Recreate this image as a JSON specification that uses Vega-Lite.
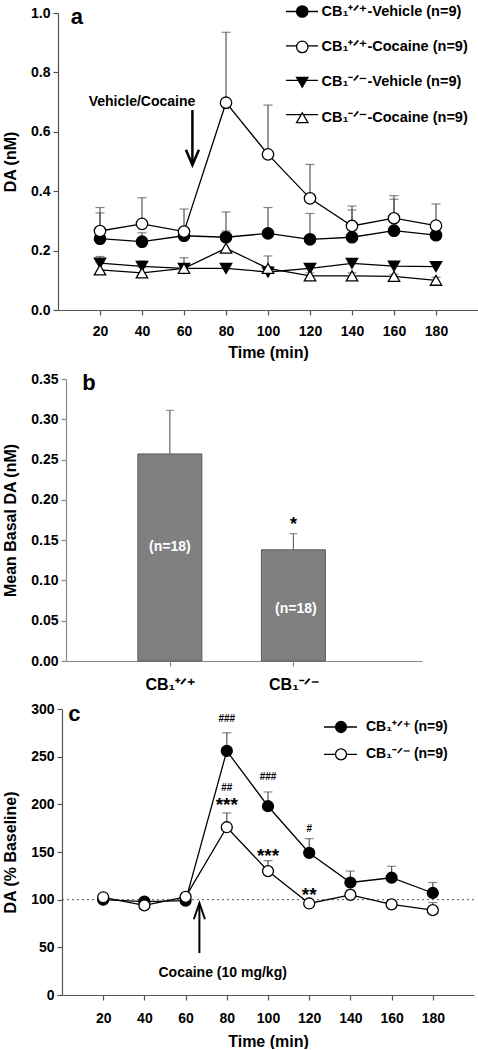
{
  "$schema": "https://vega.github.io/schema/vega-lite/v6.json",
  "padding": {"left": 2, "top": 4, "right": 0, "bottom": 0},
  "datasets": {
    "a": [
      {"time": 20, "series": "CB₁⁺ᐟ⁺-Vehicle (n=9)", "mean": 0.240, "upper": 0.327},
      {"time": 40, "series": "CB₁⁺ᐟ⁺-Vehicle (n=9)", "mean": 0.230, "upper": 0.260},
      {"time": 60, "series": "CB₁⁺ᐟ⁺-Vehicle (n=9)", "mean": 0.250, "upper": 0.270},
      {"time": 80, "series": "CB₁⁺ᐟ⁺-Vehicle (n=9)", "mean": 0.245, "upper": 0.330},
      {"time": 100, "series": "CB₁⁺ᐟ⁺-Vehicle (n=9)", "mean": 0.258, "upper": 0.345},
      {"time": 120, "series": "CB₁⁺ᐟ⁺-Vehicle (n=9)", "mean": 0.238, "upper": 0.325},
      {"time": 140, "series": "CB₁⁺ᐟ⁺-Vehicle (n=9)", "mean": 0.245, "upper": 0.337},
      {"time": 160, "series": "CB₁⁺ᐟ⁺-Vehicle (n=9)", "mean": 0.267, "upper": 0.373},
      {"time": 180, "series": "CB₁⁺ᐟ⁺-Vehicle (n=9)", "mean": 0.252, "upper": 0.290},
      {"time": 20, "series": "CB₁⁺ᐟ⁺-Cocaine (n=9)", "mean": 0.266, "upper": 0.345},
      {"time": 40, "series": "CB₁⁺ᐟ⁺-Cocaine (n=9)", "mean": 0.290, "upper": 0.378},
      {"time": 60, "series": "CB₁⁺ᐟ⁺-Cocaine (n=9)", "mean": 0.264, "upper": 0.340},
      {"time": 80, "series": "CB₁⁺ᐟ⁺-Cocaine (n=9)", "mean": 0.698, "upper": 0.935},
      {"time": 100, "series": "CB₁⁺ᐟ⁺-Cocaine (n=9)", "mean": 0.524, "upper": 0.690},
      {"time": 120, "series": "CB₁⁺ᐟ⁺-Cocaine (n=9)", "mean": 0.376, "upper": 0.490},
      {"time": 140, "series": "CB₁⁺ᐟ⁺-Cocaine (n=9)", "mean": 0.283, "upper": 0.350},
      {"time": 160, "series": "CB₁⁺ᐟ⁺-Cocaine (n=9)", "mean": 0.309, "upper": 0.385},
      {"time": 180, "series": "CB₁⁺ᐟ⁺-Cocaine (n=9)", "mean": 0.284, "upper": 0.357},
      {"time": 20, "series": "CB₁⁻ᐟ⁻-Vehicle (n=9)", "mean": 0.158, "upper": 0.180},
      {"time": 40, "series": "CB₁⁻ᐟ⁻-Vehicle (n=9)", "mean": 0.147, "upper": 0.165},
      {"time": 60, "series": "CB₁⁻ᐟ⁻-Vehicle (n=9)", "mean": 0.140, "upper": 0.150},
      {"time": 80, "series": "CB₁⁻ᐟ⁻-Vehicle (n=9)", "mean": 0.140, "upper": 0.155},
      {"time": 100, "series": "CB₁⁻ᐟ⁻-Vehicle (n=9)", "mean": 0.128, "upper": 0.145},
      {"time": 120, "series": "CB₁⁻ᐟ⁻-Vehicle (n=9)", "mean": 0.140, "upper": 0.152},
      {"time": 140, "series": "CB₁⁻ᐟ⁻-Vehicle (n=9)", "mean": 0.157, "upper": 0.170},
      {"time": 160, "series": "CB₁⁻ᐟ⁻-Vehicle (n=9)", "mean": 0.148, "upper": 0.162},
      {"time": 180, "series": "CB₁⁻ᐟ⁻-Vehicle (n=9)", "mean": 0.146, "upper": 0.160},
      {"time": 20, "series": "CB₁⁻ᐟ⁻-Cocaine (n=9)", "mean": 0.135, "upper": 0.160},
      {"time": 40, "series": "CB₁⁻ᐟ⁻-Cocaine (n=9)", "mean": 0.125, "upper": 0.145},
      {"time": 60, "series": "CB₁⁻ᐟ⁻-Cocaine (n=9)", "mean": 0.140, "upper": 0.176},
      {"time": 80, "series": "CB₁⁻ᐟ⁻-Cocaine (n=9)", "mean": 0.208, "upper": 0.266},
      {"time": 100, "series": "CB₁⁻ᐟ⁻-Cocaine (n=9)", "mean": 0.140, "upper": 0.182},
      {"time": 120, "series": "CB₁⁻ᐟ⁻-Cocaine (n=9)", "mean": 0.115, "upper": 0.125},
      {"time": 140, "series": "CB₁⁻ᐟ⁻-Cocaine (n=9)", "mean": 0.115, "upper": 0.125},
      {"time": 160, "series": "CB₁⁻ᐟ⁻-Cocaine (n=9)", "mean": 0.113, "upper": 0.120},
      {"time": 180, "series": "CB₁⁻ᐟ⁻-Cocaine (n=9)", "mean": 0.100, "upper": 0.110}
    ],
    "b": [
      {"genotype": "CB₁⁺ᐟ⁺", "group": 1, "mean": 0.257, "upper": 0.311},
      {"genotype": "CB₁⁻ᐟ⁻", "group": 2, "mean": 0.138, "upper": 0.158}
    ],
    "c": [
      {"time": 20, "genotype": "CB₁⁺ᐟ⁺ (n=9)", "mean": 100, "upper": 103},
      {"time": 40, "genotype": "CB₁⁺ᐟ⁺ (n=9)", "mean": 98, "upper": 101},
      {"time": 60, "genotype": "CB₁⁺ᐟ⁺ (n=9)", "mean": 99, "upper": 102},
      {"time": 80, "genotype": "CB₁⁺ᐟ⁺ (n=9)", "mean": 256, "upper": 275},
      {"time": 100, "genotype": "CB₁⁺ᐟ⁺ (n=9)", "mean": 198, "upper": 213},
      {"time": 120, "genotype": "CB₁⁺ᐟ⁺ (n=9)", "mean": 149, "upper": 164},
      {"time": 140, "genotype": "CB₁⁺ᐟ⁺ (n=9)", "mean": 118, "upper": 130},
      {"time": 160, "genotype": "CB₁⁺ᐟ⁺ (n=9)", "mean": 123, "upper": 135},
      {"time": 180, "genotype": "CB₁⁺ᐟ⁺ (n=9)", "mean": 107, "upper": 118},
      {"time": 20, "genotype": "CB₁⁻ᐟ⁻ (n=9)", "mean": 102.5, "upper": 106},
      {"time": 40, "genotype": "CB₁⁻ᐟ⁻ (n=9)", "mean": 94, "upper": 97},
      {"time": 60, "genotype": "CB₁⁻ᐟ⁻ (n=9)", "mean": 103, "upper": 106},
      {"time": 80, "genotype": "CB₁⁻ᐟ⁻ (n=9)", "mean": 176, "upper": 191},
      {"time": 100, "genotype": "CB₁⁻ᐟ⁻ (n=9)", "mean": 130, "upper": 141},
      {"time": 120, "genotype": "CB₁⁻ᐟ⁻ (n=9)", "mean": 96, "upper": 99},
      {"time": 140, "genotype": "CB₁⁻ᐟ⁻ (n=9)", "mean": 105, "upper": 110},
      {"time": 160, "genotype": "CB₁⁻ᐟ⁻ (n=9)", "mean": 95, "upper": 98},
      {"time": 180, "genotype": "CB₁⁻ᐟ⁻ (n=9)", "mean": 89, "upper": 97}
    ],
    "c_small": [
      {"time": 80, "y": 289, "label": "###"},
      {"time": 80, "y": 217, "label": "##"},
      {"time": 100, "y": 229, "label": "###"},
      {"time": 120, "y": 174, "label": "#"}
    ],
    "c_stars": [
      {"time": 80, "y": 201, "label": "***"},
      {"time": 100, "y": 148, "label": "***"},
      {"time": 120, "y": 107, "label": "**"}
    ]
  },
  "columns": 1,
  "spacing": 12,
  "resolve": {
    "scale": {"fill": "independent", "stroke": "independent", "shape": "independent"},
    "legend": {"fill": "independent", "stroke": "independent", "shape": "independent"}
  },
  "concat": [
    {
      "width": 420,
      "height": 297,
      "layer": [
        {
          "data": {"name": "a"},
          "mark": {"type": "rule", "color": "#555", "strokeWidth": 1.2},
          "encoding": {
            "x": {"field": "time", "type": "quantitative", "scale": {"domain": [0, 200], "nice": false},
              "axis": {"values": [20, 40, 60, 80, 100, 120, 140, 160, 180], "title": "Time (min)", "labelPadding": 9, "titlePadding": 6}},
            "y": {"field": "mean", "type": "quantitative", "scale": {"domain": [0, 1], "nice": false},
              "axis": {"values": [0, 0.2, 0.4, 0.6, 0.8, 1.0], "format": ".1f", "title": "DA (nM)", "titlePadding": 12}},
            "y2": {"field": "upper"}
          }
        },
        {
          "data": {"name": "a"},
          "mark": {"type": "tick", "orient": "horizontal", "color": "#555", "size": 9, "thickness": 1.2},
          "encoding": {
            "x": {"field": "time", "type": "quantitative"},
            "y": {"field": "upper", "type": "quantitative"}
          }
        },
        {
          "data": {"name": "a"},
          "mark": {"type": "line", "strokeWidth": 1.3},
          "encoding": {
            "x": {"field": "time", "type": "quantitative"},
            "y": {"field": "mean", "type": "quantitative"},
            "stroke": {"field": "series", "type": "nominal",
              "scale": {"domain": ["CB₁⁻ᐟ⁻-Cocaine (n=9)", "CB₁⁻ᐟ⁻-Vehicle (n=9)", "CB₁⁺ᐟ⁺-Cocaine (n=9)", "CB₁⁺ᐟ⁺-Vehicle (n=9)"], "range": ["black", "black", "black", "black"]},
              "legend": {"orient": "none", "legendX": 227, "legendY": -8.5, "padding": 0, "title": null, "symbolType": "stroke", "symbolSize": 1024, "symbolStrokeColor": "black", "symbolStrokeWidth": 1.3, "labelExpr": "''", "rowPadding": 20.4, "clipHeight": 14}}
          }
        },
        {
          "data": {"name": "a"},
          "mark": {"type": "point", "filled": true, "stroke": "black", "strokeWidth": 1.3, "opacity": 1, "size": 130},
          "encoding": {
            "x": {"field": "time", "type": "quantitative"},
            "y": {"field": "mean", "type": "quantitative"},
            "shape": {"field": "series", "type": "nominal",
              "scale": {"domain": ["CB₁⁺ᐟ⁺-Vehicle (n=9)", "CB₁⁺ᐟ⁺-Cocaine (n=9)", "CB₁⁻ᐟ⁻-Vehicle (n=9)", "CB₁⁻ᐟ⁻-Cocaine (n=9)"], "range": ["circle", "circle", "triangle-down", "triangle-up"]},
              "legend": {"orient": "none", "legendX": 237, "legendY": -8.5, "padding": 0, "title": null, "symbolSize": 130, "symbolStrokeWidth": 1.3, "labelFontSize": 14.5, "labelFontWeight": "bold", "labelColor": "black", "labelOffset": 12, "rowPadding": 20.4, "clipHeight": 14, "labelLimit": 300,
                "encode": {"symbols": {"stroke": {"value": "black"}, "strokeWidth": {"value": 1.3}}}}},
            "fill": {"field": "series", "type": "nominal",
              "scale": {"domain": ["CB₁⁺ᐟ⁺-Vehicle (n=9)", "CB₁⁺ᐟ⁺-Cocaine (n=9)", "CB₁⁻ᐟ⁻-Vehicle (n=9)", "CB₁⁻ᐟ⁻-Cocaine (n=9)"], "range": ["black", "white", "black", "white"]},
              "legend": {"orient": "none", "legendX": 237, "legendY": -8.5, "padding": 0, "title": null, "symbolSize": 130, "symbolStrokeWidth": 1.3, "labelFontSize": 14.5, "labelFontWeight": "bold", "labelColor": "black", "labelOffset": 12, "rowPadding": 20.4, "clipHeight": 14, "labelLimit": 300,
                "encode": {"symbols": {"stroke": {"value": "black"}, "strokeWidth": {"value": 1.3}}}}}
          }
        },
        {
          "data": {"values": [{"time": 64, "y": 0.673, "y2": 0.49}]},
          "mark": {"type": "rule", "color": "black", "strokeWidth": 2.5},
          "encoding": {
            "x": {"field": "time", "type": "quantitative"},
            "y": {"field": "y", "type": "quantitative"},
            "y2": {"field": "y2"}
          }
        },
        {
          "data": {"values": [{"time": 64, "y": 0.488}]},
          "mark": {"type": "point", "shape": "M-0.72,-1.7L0,0L0.72,-1.7", "size": 324, "filled": false, "stroke": "black", "strokeWidth": 2.5, "opacity": 1},
          "encoding": {
            "x": {"field": "time", "type": "quantitative"},
            "y": {"field": "y", "type": "quantitative"}
          }
        },
        {
          "data": {"values": [{"time": 40, "y": 0.70, "label": "Vehicle/Cocaine"}]},
          "mark": {"type": "text", "fontSize": 14, "fontWeight": "bold", "baseline": "middle", "align": "center"},
          "encoding": {
            "x": {"field": "time", "type": "quantitative"},
            "y": {"field": "y", "type": "quantitative"},
            "text": {"field": "label"}
          }
        },
        {
          "data": {"values": [{"time": 9, "y": 0.985, "label": "a"}]},
          "mark": {"type": "text", "fontSize": 22, "fontWeight": "bold", "baseline": "middle", "align": "center"},
          "encoding": {
            "x": {"field": "time", "type": "quantitative"},
            "y": {"field": "y", "type": "quantitative"},
            "text": {"field": "label"}
          }
        }
      ]
    },
    {
      "columns": 1,
      "spacing": 10,
      "resolve": {
        "scale": {"fill": "independent", "stroke": "independent", "shape": "independent"},
        "legend": {"fill": "independent", "stroke": "independent", "shape": "independent"}
      },
      "concat": [
        {
          "width": 364,
          "height": 282,
          "layer": [
            {
              "data": {"name": "b"},
              "mark": {"type": "bar", "size": 64, "color": "#808080", "stroke": "#5a5a5a", "strokeWidth": 1},
              "encoding": {
                "x": {"field": "group", "type": "quantitative", "scale": {"domain": [0.2, 3.0], "range": [8, 364], "nice": false, "zero": false},
                  "axis": {"values": [1, 2], "labelExpr": "datum.value == 1 ? 'CB₁⁺ᐟ⁺' : 'CB₁⁻ᐟ⁻'", "title": null, "labelFontSize": 16, "labelPadding": 10, "domainColor": "#888", "tickColor": "#888"}},
                "y": {"field": "mean", "type": "quantitative", "scale": {"domain": [0, 0.35], "nice": false},
                  "axis": {"values": [0, 0.05, 0.1, 0.15, 0.2, 0.25, 0.3, 0.35], "format": ".2f", "title": "Mean Basal DA (nM)", "titlePadding": 12, "offset": -8, "domainColor": "#888", "tickColor": "#888"}}
              }
            },
            {
              "data": {"name": "b"},
              "mark": {"type": "rule", "color": "#666", "strokeWidth": 1.2},
              "encoding": {
                "x": {"field": "group", "type": "quantitative"},
                "y": {"field": "mean", "type": "quantitative"},
                "y2": {"field": "upper"}
              }
            },
            {
              "data": {"name": "b"},
              "mark": {"type": "tick", "orient": "horizontal", "color": "#666", "size": 8, "thickness": 1.2},
              "encoding": {
                "x": {"field": "group", "type": "quantitative"},
                "y": {"field": "upper", "type": "quantitative"}
              }
            },
            {
              "data": {"values": [{"group": 1, "y": 0.141, "label": "(n=18)"}, {"group": 2.02, "y": 0.065, "label": "(n=18)"}]},
              "mark": {"type": "text", "fontSize": 14, "fontWeight": "bold", "color": "white", "baseline": "middle", "align": "center"},
              "encoding": {
                "x": {"field": "group", "type": "quantitative"},
                "y": {"field": "y", "type": "quantitative"},
                "text": {"field": "label"}
              }
            },
            {
              "data": {"values": [{"group": 2, "y": 0.172, "label": "*"}]},
              "mark": {"type": "text", "fontSize": 18, "fontWeight": "bold", "baseline": "middle", "align": "center", "dy": 3},
              "encoding": {
                "x": {"field": "group", "type": "quantitative"},
                "y": {"field": "y", "type": "quantitative"},
                "text": {"field": "label"}
              }
            },
            {
              "data": {"values": [{"group": 0.346, "y": 0.345, "label": "b"}]},
              "mark": {"type": "text", "fontSize": 22, "fontWeight": "bold", "baseline": "middle", "align": "center"},
              "encoding": {
                "x": {"field": "group", "type": "quantitative"},
                "y": {"field": "y", "type": "quantitative"},
                "text": {"field": "label"}
              }
            }
          ]
        },
        {
          "width": 416,
          "height": 286,
          "layer": [
            {
              "data": {"values": [{"x": 0, "x2": 200, "y": 100}]},
              "mark": {"type": "rule", "color": "#555", "strokeWidth": 1, "strokeDash": [2, 3]},
              "encoding": {
                "x": {"field": "x", "type": "quantitative", "scale": {"domain": [0, 200], "range": [4, 416], "nice": false},
                  "axis": {"values": [20, 40, 60, 80, 100, 120, 140, 160, 180], "title": "Time (min)", "labelPadding": 11, "titlePadding": 8}},
                "x2": {"field": "x2"},
                "y": {"field": "y", "type": "quantitative", "scale": {"domain": [0, 300], "nice": false},
                  "axis": {"values": [0, 50, 100, 150, 200, 250, 300], "title": "DA (% Baseline)", "titlePadding": 12, "offset": -4}}
              }
            },
            {
              "data": {"name": "c"},
              "mark": {"type": "rule", "color": "#555", "strokeWidth": 1.2},
              "encoding": {
                "x": {"field": "time", "type": "quantitative"},
                "y": {"field": "mean", "type": "quantitative"},
                "y2": {"field": "upper"}
              }
            },
            {
              "data": {"name": "c"},
              "mark": {"type": "tick", "orient": "horizontal", "color": "#555", "size": 9, "thickness": 1.2},
              "encoding": {
                "x": {"field": "time", "type": "quantitative"},
                "y": {"field": "upper", "type": "quantitative"}
              }
            },
            {
              "data": {"name": "c"},
              "mark": {"type": "line", "strokeWidth": 1.3},
              "encoding": {
                "x": {"field": "time", "type": "quantitative"},
                "y": {"field": "mean", "type": "quantitative"},
                "stroke": {"field": "genotype", "type": "nominal",
                  "scale": {"domain": ["CB₁⁻ᐟ⁻ (n=9)", "CB₁⁺ᐟ⁺ (n=9)"], "range": ["black", "black"]},
                  "legend": {"orient": "none", "legendX": 265, "legendY": 11, "padding": 0, "title": null, "symbolType": "stroke", "symbolSize": 1089, "symbolStrokeColor": "black", "symbolStrokeWidth": 1.3, "labelExpr": "''", "rowPadding": 13.3, "clipHeight": 14}}
              }
            },
            {
              "data": {"name": "c"},
              "mark": {"type": "point", "filled": true, "stroke": "black", "strokeWidth": 1.3, "opacity": 1, "size": 120, "shape": "circle"},
              "encoding": {
                "x": {"field": "time", "type": "quantitative"},
                "y": {"field": "mean", "type": "quantitative"},
                "fill": {"field": "genotype", "type": "nominal",
                  "scale": {"domain": ["CB₁⁺ᐟ⁺ (n=9)", "CB₁⁻ᐟ⁻ (n=9)"], "range": ["black", "white"]},
                  "legend": {"orient": "none", "legendX": 276, "legendY": 11, "padding": 0, "title": null, "symbolType": "circle", "symbolSize": 120, "symbolStrokeColor": "black", "symbolStrokeWidth": 1.3, "labelFontSize": 14, "labelFontWeight": "bold", "labelColor": "black", "labelOffset": 18, "rowPadding": 13.3, "clipHeight": 14, "labelLimit": 300}}
              }
            },
            {
              "data": {"values": [{"time": 66.7, "y": 44, "y2": 96}]},
              "mark": {"type": "rule", "color": "black", "strokeWidth": 2},
              "encoding": {
                "x": {"field": "time", "type": "quantitative"},
                "y": {"field": "y", "type": "quantitative"},
                "y2": {"field": "y2"}
              }
            },
            {
              "data": {"values": [{"time": 66.7, "y": 96.5}]},
              "mark": {"type": "point", "shape": "M-0.62,1.8L0,0L0.62,1.8", "size": 324, "filled": false, "stroke": "black", "strokeWidth": 2, "opacity": 1},
              "encoding": {
                "x": {"field": "time", "type": "quantitative"},
                "y": {"field": "y", "type": "quantitative"}
              }
            },
            {
              "data": {"values": [{"time": 78, "y": 23, "label": "Cocaine (10 mg/kg)"}]},
              "mark": {"type": "text", "fontSize": 14, "fontWeight": "bold", "baseline": "middle", "align": "center"},
              "encoding": {
                "x": {"field": "time", "type": "quantitative"},
                "y": {"field": "y", "type": "quantitative"},
                "text": {"field": "label"}
              }
            },
            {
              "data": {"name": "c_small"},
              "mark": {"type": "text", "fontSize": 10, "fontWeight": "bold", "baseline": "middle", "align": "center"},
              "encoding": {
                "x": {"field": "time", "type": "quantitative"},
                "y": {"field": "y", "type": "quantitative"},
                "text": {"field": "label"}
              }
            },
            {
              "data": {"name": "c_stars"},
              "mark": {"type": "text", "fontSize": 19, "fontWeight": "bold", "baseline": "middle", "align": "center", "dy": 2},
              "encoding": {
                "x": {"field": "time", "type": "quantitative"},
                "y": {"field": "y", "type": "quantitative"},
                "text": {"field": "label"}
              }
            },
            {
              "data": {"values": [{"time": 6, "y": 295, "label": "c"}]},
              "mark": {"type": "text", "fontSize": 22, "fontWeight": "bold", "baseline": "middle", "align": "center"},
              "encoding": {
                "x": {"field": "time", "type": "quantitative"},
                "y": {"field": "y", "type": "quantitative"},
                "text": {"field": "label"}
              }
            }
          ]
        }
      ]
    }
  ],
  "config": {
    "font": "Liberation Sans",
    "view": {"stroke": null},
    "axis": {
      "labelFont": "Liberation Sans", "labelFontWeight": "bold", "labelFontSize": 14, "labelColor": "black",
      "titleFont": "Liberation Sans", "titleFontWeight": "bold", "titleFontSize": 16, "titleColor": "black",
      "domainColor": "#555", "tickColor": "#555", "grid": false, "tickSize": 5, "labelPadding": 3, "domainWidth": 1.2, "tickWidth": 1.2
    },
    "legend": {"labelFont": "Liberation Sans"}
  }
}
